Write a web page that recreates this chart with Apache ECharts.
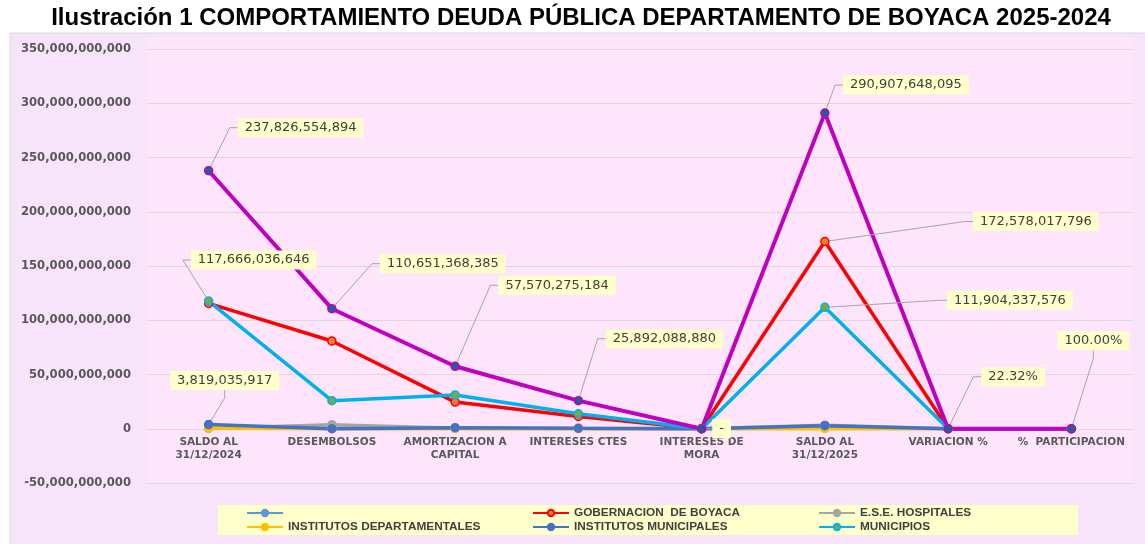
<!DOCTYPE html>
<html>
<head>
<meta charset="utf-8">
<script src="https://cdn.jsdelivr.net/npm/echarts@6/dist/echarts.min.js"></script>
<style>
  html, body { margin: 0; padding: 0; background: #fff; }
  #chart { width: 1145px; height: 544px; }
</style>
</head>
<body>
<div id="chart"></div>
<script>
// categorias del eje x
var categorias = ['SALDO AL\n31/12/2024', 'DESEMBOLSOS', 'AMORTIZACION A\nCAPITAL', 'INTERESES CTES',
  'INTERESES DE\nMORA', 'SALDO AL\n31/12/2025', 'VARIACION %', '%  PARTICIPACION'];

// valores por entidad (pesos; las dos ultimas columnas son fracciones)
var gobernacion = [115.5e9, 80.9e9, 24.6e9, 11.3e9, 0, 172578017796, 0.4942, 0.5932];
var hospitales = [0.3e9, 3.8e9, 0.5e9, 0.3e9, 0, 3.3e9, 10.0, 0.0113];
var deptales = [0.5e9, 0, 0.2e9, 0.05e9, 0, 0.33e9, -0.34, 0.0011];
var municipales = [3819035917, 0.05e9, 1.0e9, 0.45e9, 0, 2.8e9, -0.2668, 0.0096];
var municipios = [117666036646, 25.9e9, 31.2e9, 13.8e9, 0, 111904337576, -0.049, 0.3847];
var total = [237826554894, 110651368385, 57570275184, 25892088880, 0, 290907648095, 0.2232, 1];

// ticks del eje y
var yMin = -50e9, yMax = 350e9, yPaso = 50e9;

// desplazamiento de cada etiqueta respecto a su punto (dx, dy)
var etiquetas = {
  total: { 0: [92, -43], 1: [111, -45], 2: [102, -81], 3: [86, -62], 4: [20, 0], 5: [81, -28], 6: [65, -52], 7: [22, -88] },
  gob: { 5: [211, -20] },
  municipios: { 0: [45, -41], 5: [185, -7] },
  municipales: { 0: [16, -44] }
};

function miles(v) {
  var s = Math.round(Math.abs(v)).toString().replace(/\B(?=(\d{3})+(?!\d))/g, ',');
  return (v < 0 ? '-' : '') + s;
}

var estiloEtiqueta = {
  show: false,
  fontFamily: 'DejaVu Sans',
  fontSize: 13,
  color: '#404040',
  backgroundColor: '#FFFFCC',
  padding: [3, 7, 3, 7],
  formatter: function (p) {
    if (p.dataIndex >= 6) return (p.value * 100).toFixed(2) + '%';
    if (p.value === 0) return '-';
    return miles(p.value);
  }
};

function serie(nombre, clave, valores, linea, relleno, borde, ancho) {
  var marcas = etiquetas[clave] || {};
  return {
    name: nombre,
    type: 'line',
    symbol: 'circle',
    symbolSize: 8,
    lineStyle: { color: linea, width: ancho },
    itemStyle: { color: relleno, borderColor: borde, borderWidth: 1.5 },
    label: estiloEtiqueta,
    labelLine: { show: true, length2: 8, lineStyle: { color: '#A6A6A6', width: 1 } },
    labelLayout: function (params) {
      var d = marcas[params.dataIndex];
      if (!d) return {};
      var cx = params.rect.x + params.rect.width / 2;
      var cy = params.rect.y + params.rect.height / 2;
      return { x: cx + d[0], y: cy + d[1], align: 'center', verticalAlign: 'middle' };
    },
    data: valores.map(function (v, i) {
      return marcas[i] ? { value: v, label: { show: true } } : v;
    })
  };
}

var myChart = echarts.init(document.getElementById('chart'));
var option = {
  animation: false,
  title: {
    text: 'Ilustración 1 COMPORTAMIENTO DEUDA PÚBLICA DEPARTAMENTO DE BOYACA 2025-2024',
    left: 581,
    textAlign: 'center',
    top: 6,
    padding: 0,
    textStyle: { fontFamily: 'Liberation Sans', fontWeight: 'bold', fontSize: 24, color: '#000' }
  },
  graphic: [
    { type: 'rect', z: -10, silent: true, shape: { x: 10, y: 33, width: 1150, height: 520 },
      style: { fill: '#F8E4FA', stroke: '#D9D9D9', lineWidth: 1 } },
    { type: 'rect', z: -9, silent: true, shape: { x: 147, y: 37, width: 986, height: 446 },
      style: { fill: '#FEE5FC' } }
  ],
  grid: { left: 147, right: 12, top: 49, bottom: 61 },
  legend: {
    left: 218,
    top: 505,
    width: 800,
    padding: [2, 38, 2, 28],
    backgroundColor: '#FFFFCC',
    itemWidth: 36,
    itemHeight: 8,
    itemGap: 2,
    textStyle: { fontFamily: 'Liberation Sans', fontWeight: 'bold', fontSize: 11.8, color: '#404040', width: 242, lineHeight: 12 },
    data: [
      { name: ' ', itemStyle: { color: '#5B9BD5', borderColor: '#5B9BD5' }, lineStyle: { color: '#5B9BD5' } },
      'GOBERNACION  DE BOYACA',
      { name: 'E.S.E. HOSPITALES', textStyle: { width: 180 } },
      'INSTITUTOS DEPARTAMENTALES',
      'INSTITUTOS MUNICIPALES',
      { name: 'MUNICIPIOS', textStyle: { width: 180 } }
    ]
  },
  xAxis: {
    type: 'category',
    data: categorias,
    // las etiquetas van bajo la linea de cero (un intervalo por encima del fondo)
    offset: -54.25,
    axisLine: { onZero: false, lineStyle: { color: '#D9D9D9', width: 1 } },
    axisTick: { show: false },
    axisLabel: {
      interval: 0,
      margin: 7,
      fontFamily: 'DejaVu Sans',
      fontWeight: 'bold',
      fontSize: 10.5,
      lineHeight: 13,
      color: '#595959'
    }
  },
  yAxis: {
    type: 'value',
    min: yMin,
    max: yMax,
    interval: yPaso,
    axisLine: { show: false },
    axisTick: { show: false },
    splitLine: { lineStyle: { color: '#D9D9D9', width: 1 } },
    axisLabel: {
      margin: 16,
      fontFamily: 'DejaVu Sans',
      fontWeight: 'bold',
      fontSize: 11.6,
      color: '#595959',
      formatter: function (v) { return miles(v); }
    }
  },
  series: [
    serie('GOBERNACION  DE BOYACA', 'gob', gobernacion, '#FF0000', '#ED7D31', '#FF0000', 3.5),
    serie('E.S.E. HOSPITALES', 'hosp', hospitales, '#A5A5A5', '#A5A5A5', '#A5A5A5', 3.5),
    serie('INSTITUTOS DEPARTAMENTALES', 'dept', deptales, '#FFC000', '#FFC000', '#FFC000', 3.5),
    serie('INSTITUTOS MUNICIPALES', 'municipales', municipales, '#4472C4', '#4472C4', '#4472C4', 3.5),
    serie('MUNICIPIOS', 'municipios', municipios, '#00B0F0', '#70AD47', '#00B0F0', 3.5),
    serie(' ', 'total', total, '#C000C0', '#255E91', '#C000C0', 4)
  ]
};
myChart.setOption(option);
window.addEventListener('resize', function () {
  myChart.resize();
});
</script>
</body>
</html>
